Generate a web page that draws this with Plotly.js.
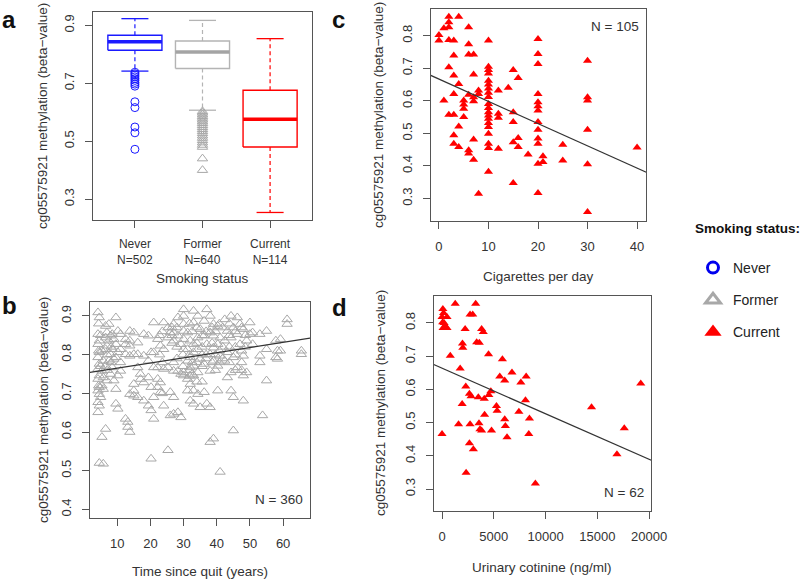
<!DOCTYPE html>
<html>
<head>
<meta charset="utf-8">
<script src="https://cdn.plot.ly/plotly-3.0.1.min.js"></script>
<style>
  html, body { margin: 0; padding: 0; background: #fff; }
  #graph { width: 800px; height: 582px; }
</style>
</head>
<body>
<div id="graph"></div>
<script>
// panel a: box plot by smoking status
const groups = ['Never', 'Former', 'Current']
const groupN = [502, 640, 114]
const boxLower = [0.742, 0.607, 0.254]
const boxQ1 = [0.814, 0.751, 0.480]
const boxMedian = [0.843, 0.808, 0.576]
const boxQ3 = [0.866, 0.846, 0.676]
const boxUpper = [0.923, 0.917, 0.854]
const neverOutliers = [0.738, 0.733, 0.728, 0.722, 0.716, 0.710, 0.703, 0.697, 0.690, 0.636, 0.616, 0.549, 0.529, 0.472]
const formerOutliers = [0.603, 0.598, 0.592, 0.586, 0.580, 0.574, 0.568, 0.562, 0.555, 0.548, 0.541, 0.534, 0.527, 0.519, 0.511, 0.503, 0.495, 0.487, 0.480, 0.440, 0.400]

// panel b: former smokers, time since quit
const quitYears = [4.2, 4.4, 4.6, 5, 5.4, 5.8, 6.5, 6.9, 7, 7.5, 8, 8.2, 8.5, 9, 9.6, 10.2,
    11, 12.5, 13.2, 13.8, 15, 16.2, 17, 18, 19.4, 20.2, 21, 22.2, 22.8, 23, 23.6, 24, 25.3, 26, 26.5, 27,
    28, 28.3, 29.2, 29.8, 30, 31.2, 31.8, 32, 32.6, 33, 34, 34.3, 35, 35.6, 36.2, 36.8, 37, 38, 38.6, 39,
    39.6, 40.3, 40.8, 41, 41.8, 42.4, 43.2, 43.8, 44.3, 45, 45.6, 46.2, 47, 47.5, 48, 48.6, 49, 50, 50.8, 53,
    53.8, 55, 57.8, 58.3, 59.2, 61.2, 65.5]
const quitBeta = [
    [0.909, 0.853, 0.827, 0.793, 0.763, 0.737, 0.707, 0.677, 0.651], // 4.2
    [0.88, 0.81, 0.72], // 4.4
    [0.896, 0.836, 0.806, 0.776, 0.746, 0.716, 0.698, 0.668, 0.52], // 4.6
    [0.85, 0.77, 0.69], // 5
    [0.81, 0.758, 0.72, 0.587], // 5.4
    [0.784, 0.741, 0.711, 0.518], // 5.8
    [0.874, 0.844, 0.814, 0.771, 0.608], // 6.5
    [0.857, 0.823, 0.733], // 6.9
    [0.80, 0.76], // 7
    [0.879, 0.836, 0.784], // 7.5
    [0.849, 0.801, 0.75], // 8
    [0.82, 0.78], // 8.2
    [0.853, 0.814, 0.767], // 8.5
    [0.84, 0.789, 0.733], // 9
    [0.896, 0.827, 0.793, 0.711, 0.673], // 9.6
    [0.861, 0.806, 0.746, 0.66], // 10.2
    [0.853, 0.814, 0.78, 0.758], // 11
    [0.84, 0.827, 0.801, 0.634], // 12.5
    [0.626, 0.613], // 13.2
    [0.861, 0.836, 0.823, 0.797, 0.698, 0.6], // 13.8
    [0.857, 0.801, 0.724, 0.707, 0.694], // 15
    [0.831, 0.801, 0.767, 0.69], // 16.2
    [0.75, 0.737], // 17
    [0.853, 0.797, 0.728, 0.681], // 18
    [0.849, 0.784, 0.741, 0.668], // 19.4
    [0.806, 0.716, 0.656, 0.531], // 20.2
    [0.883, 0.806, 0.767, 0.69, 0.634], // 21
    [0.84, 0.767, 0.737, 0.716], // 22.2
    [0.85, 0.80], // 22.8
    [0.823, 0.728, 0.703], // 23
    [0.86, 0.78, 0.70], // 23.6
    [0.883, 0.814, 0.763, 0.668], // 24
    [0.87, 0.844, 0.767, 0.553], // 25.3
    [0.857, 0.703, 0.643], // 26
    [0.87, 0.85, 0.83], // 26.5
    [0.879, 0.857, 0.836, 0.78, 0.758, 0.69, 0.647], // 27
    [0.87, 0.82, 0.79], // 28
    [0.896, 0.849, 0.758, 0.651], // 28.3
    [0.827, 0.75, 0.638], // 29.2
    [0.80, 0.77], // 29.8
    [0.917, 0.9, 0.879, 0.861, 0.84, 0.814, 0.754, 0.746], // 30
    [0.857, 0.814, 0.784, 0.737, 0.707], // 31.2
    [0.88, 0.80, 0.76, 0.745], // 31.8
    [0.836, 0.793, 0.767, 0.724, 0.681], // 32
    [0.86, 0.78, 0.75], // 32.6
    [0.913, 0.883, 0.827, 0.806, 0.771, 0.746, 0.707, 0.673], // 33
    [0.87, 0.83, 0.78, 0.73], // 34
    [0.9, 0.844, 0.814, 0.754, 0.698], // 34.3
    [0.866, 0.789, 0.664], // 35
    [0.85, 0.82, 0.80, 0.77, 0.73], // 35.6
    [0.887, 0.849, 0.776, 0.703], // 36.2
    [0.86, 0.80, 0.79], // 36.8
    [0.917, 0.827, 0.673], // 37
    [0.9, 0.857, 0.801, 0.758, 0.664, 0.574], // 38
    [0.87, 0.83, 0.78], // 38.6
    [0.879, 0.849, 0.818, 0.784, 0.583], // 39
    [0.86, 0.80, 0.76], // 39.6
    [0.874, 0.827, 0.771, 0.707], // 40.3
    [0.88, 0.81, 0.78], // 40.8
    [0.844, 0.797, 0.497], // 41
    [0.87, 0.82, 0.79], // 41.8
    [0.891, 0.836, 0.784], // 42.4
    [0.861, 0.806, 0.741], // 43.2
    [0.88, 0.85, 0.82, 0.78], // 43.8
    [0.9, 0.844, 0.754, 0.707], // 44.3
    [0.87, 0.793, 0.69, 0.604], // 45
    [0.86, 0.82, 0.80, 0.76], // 45.6
    [0.896, 0.853, 0.767], // 46.2
    [0.879, 0.827], // 47
    [0.87, 0.81, 0.78, 0.76], // 47.5
    [0.866, 0.797, 0.746, 0.681], // 48
    [0.85, 0.82], // 48.6
    [0.836, 0.754], // 49
    [0.883, 0.853], // 50
    [0.857, 0.827], // 50.8
    [0.853, 0.797, 0.78], // 53
    [0.643], // 53.8
    [0.861, 0.814, 0.733], // 55
    [0.836, 0.793], // 57.8
    [0.81, 0.789], // 58.3
    [0.84, 0.81], // 59.2
    [0.891, 0.879], // 61.2
    [0.81, 0.801] // 65.5
]
const quitFitX = [0, 70]
const quitFitY = [0.752, 0.845]

// panel c: current smokers, cigarettes per day
const cigPerDay = [0, 1, 2, 3, 4, 5, 6, 7, 8, 10, 12, 14, 15, 16, 18, 20, 21, 25, 30, 40]
const cigBeta = [
    [0.802, 0.785],
    [0.823, 0.601],
    [0.858, 0.841, 0.826, 0.787, 0.703, 0.557],
    [0.785, 0.739, 0.678, 0.621, 0.557, 0.494, 0.468],
    [0.858, 0.652, 0.521, 0.458],
    [0.601, 0.589, 0.576, 0.550],
    [0.826, 0.774, 0.742, 0.619, 0.448, 0.438],
    [0.742, 0.681, 0.611, 0.599, 0.481, 0.419],
    [0.632, 0.621, 0.315],
    [0.785, 0.705, 0.695, 0.684, 0.662, 0.650, 0.638, 0.625, 0.612, 0.590, 0.578, 0.565, 0.555, 0.545, 0.532, 0.520, 0.499, 0.468, 0.455, 0.382],
    [0.632, 0.560, 0.548, 0.453],
    [0.640],
    [0.695, 0.565, 0.535, 0.473, 0.348],
    [0.670, 0.486, 0.458],
    [0.435],
    [0.790, 0.744, 0.713, 0.621, 0.596, 0.583, 0.570, 0.535, 0.511, 0.484, 0.468, 0.407, 0.317],
    [0.430, 0.412],
    [0.465, 0.417],
    [0.723, 0.611, 0.601, 0.511, 0.405, 0.259],
    [0.457]
]
const cigFitX = [-5, 45]
const cigFitY = [0.701, 0.359]

// panel d: current smokers, urinary cotinine
const cotinine = [0, 80, 150, 0, 480, 60, 300, 100, 480, 200, 1274, 3248, 796, 1975, 2229, 2707, 2962, 2006,
    3344, 3599, 3822, 3981, 4490, 1752, 2293, 1943, 2643, 2803, 3503, 4076, 4522, 4713, 1592, 2707, 3567,
    3662, 3822, 4108, 4777, 2643, 3025, 2325, 5255, 5318, 5828, 5573, 6051, 6752, 6051, 6115, 6274, 7420,
    7611, 8121, 8057, 8439, 8376, 9013, 14435, 17596, 16887, 19186]
const cotBeta = [0.466, 0.842, 0.830, 0.818, 0.818, 0.802, 0.790, 0.785, 0.785, 0.800, 0.858, 0.858, 0.701, 0.738, 0.782, 0.825, 0.825, 0.725,
    0.742, 0.740, 0.782, 0.773, 0.706, 0.663, 0.609, 0.556, 0.587, 0.579, 0.576, 0.572, 0.583, 0.594, 0.495, 0.495, 0.498,
    0.480, 0.476, 0.524, 0.476, 0.438, 0.420, 0.349, 0.550, 0.536, 0.691, 0.639, 0.627, 0.651, 0.510, 0.490, 0.456, 0.533,
    0.621, 0.639, 0.567, 0.512, 0.466, 0.317, 0.546, 0.483, 0.405, 0.618]
const cotFitX = [-2000, 22000]
const cotFitY = [0.691, 0.362]

const FONT = '"Liberation Sans", Arial, sans-serif'
const colors = {Never: '#1a1aff', Former: '#b4b4b4', Current: '#ff0000'}
const boxHalf = 0.4

const traces = []

// boxes built from the summary statistics
groups.forEach((g, i) => {
    const c = colors[g]
    traces.push({
        x: [i - boxHalf, i + boxHalf, i + boxHalf, i - boxHalf, i - boxHalf],
        y: [boxQ1[i], boxQ1[i], boxQ3[i], boxQ3[i], boxQ1[i]],
        xaxis: 'x', yaxis: 'y', mode: 'lines', showlegend: false, hoverinfo: 'skip',
        line: {color: c, width: 1.4}
    })
    traces.push({
        x: [i, i, null, i, i],
        y: [boxQ3[i], boxUpper[i], null, boxQ1[i], boxLower[i]],
        xaxis: 'x', yaxis: 'y', mode: 'lines', showlegend: false, hoverinfo: 'skip',
        line: {color: c, width: 1.2, dash: '4px,3px'}
    })
    traces.push({
        x: [i - boxHalf / 2, i + boxHalf / 2, null, i - boxHalf / 2, i + boxHalf / 2],
        y: [boxUpper[i], boxUpper[i], null, boxLower[i], boxLower[i]],
        xaxis: 'x', yaxis: 'y', mode: 'lines', showlegend: false, hoverinfo: 'skip',
        line: {color: c, width: 1.3}
    })
    traces.push({
        x: [i - boxHalf, i + boxHalf],
        y: [boxMedian[i], boxMedian[i]],
        xaxis: 'x', yaxis: 'y', mode: 'lines', showlegend: false, hoverinfo: 'skip',
        line: {color: g === 'Former' ? '#a4a4a4' : c, width: 3.5}
    })
})
traces.push({
    x: neverOutliers.map(() => 0), y: neverOutliers, xaxis: 'x', yaxis: 'y',
    mode: 'markers', showlegend: false,
    marker: {symbol: 'circle-open', size: 8, color: colors.Never, line: {width: 1}}
})
traces.push({
    x: formerOutliers.map(() => 1), y: formerOutliers, xaxis: 'x', yaxis: 'y',
    mode: 'markers', showlegend: false,
    marker: {symbol: 'triangle-up-open', size: 9, color: '#a8a8a8', line: {width: 1}}
})

// panel b
const bx = [], by = []
quitYears.forEach((yr, k) => {
    for (const v of quitBeta[k]) { bx.push(yr); by.push(v) }
})
traces.push({
    x: bx, y: by, xaxis: 'x2', yaxis: 'y2', mode: 'markers', showlegend: false,
    marker: {symbol: 'triangle-up-open', size: 9, color: '#a8a8a8', line: {width: 1}}
})
traces.push({
    x: quitFitX, y: quitFitY, xaxis: 'x2', yaxis: 'y2', mode: 'lines', showlegend: false,
    line: {color: '#333', width: 1.2}
})

// panel c
const cx = [], cy = []
cigPerDay.forEach((n, k) => {
    for (const v of cigBeta[k]) { cx.push(n); cy.push(v) }
})
traces.push({
    x: cx, y: cy, xaxis: 'x3', yaxis: 'y3', mode: 'markers', showlegend: false,
    marker: {symbol: 'triangle-up', size: 8, color: colors.Current}
})
traces.push({
    x: cigFitX, y: cigFitY, xaxis: 'x3', yaxis: 'y3', mode: 'lines', showlegend: false,
    line: {color: '#333', width: 1.2}
})

// panel d
traces.push({
    x: cotinine, y: cotBeta, xaxis: 'x4', yaxis: 'y4', mode: 'markers', showlegend: false,
    marker: {symbol: 'triangle-up', size: 8, color: colors.Current}
})
traces.push({
    x: cotFitX, y: cotFitY, xaxis: 'x4', yaxis: 'y4', mode: 'lines', showlegend: false,
    line: {color: '#333', width: 1.2}
})

// legend entries
const legendMarkers = {
    Never: {symbol: 'circle-open', size: 11, color: '#0000ee', line: {width: 3}},
    Former: {symbol: 'triangle-up-open', size: 13, color: '#a8a8a8', line: {width: 3}},
    Current: {symbol: 'triangle-up', size: 15, color: '#ff0000', line: {width: 0}}
}
groups.forEach((g) => {
    traces.push({
        x: [null], y: [null], xaxis: 'x', yaxis: 'y', mode: 'markers', name: g,
        legendgroup: g, showlegend: true, marker: legendMarkers[g]
    })
})

const axisBase = (extra) => Object.assign({
    showline: true, mirror: true, linecolor: '#555', linewidth: 1,
    ticks: 'outside', ticklen: 7, tickcolor: '#555', tickwidth: 1,
    showgrid: false, zeroline: false, fixedrange: true, ticklabelstandoff: 6,
    tickfont: {family: FONT, size: 13, color: '#333'}
}, extra)

const W = 800, H = 582
const px = (v) => v / W
const py = (v) => 1 - v / H

const yTitle = 'cg05575921 methylation (beta−value)'
const textFont = {family: FONT, size: 13.5, color: '#333'}
const annotations = [
    {text: '<b>a</b>', x: px(0), y: py(4), xanchor: 'left', yanchor: 'top'},
    {text: '<b>b</b>', x: px(0), y: py(290), xanchor: 'left', yanchor: 'top'},
    {text: '<b>c</b>', x: px(330), y: py(4), xanchor: 'left', yanchor: 'top'},
    {text: '<b>d</b>', x: px(330), y: py(292), xanchor: 'left', yanchor: 'top'}
].map(a => Object.assign(a, {xref: 'paper', yref: 'paper', showarrow: false,
    font: {family: FONT, size: 24, color: '#111'}}))

const titles = [
    {text: yTitle, x: px(43), y: py(116), textangle: -90},
    {text: yTitle, x: px(43), y: py(410), textangle: -90},
    {text: yTitle, x: px(379), y: py(115), textangle: -90},
    {text: yTitle, x: px(380), y: py(403), textangle: -90},
    {text: 'Smoking status', x: px(202), y: py(278)},
    {text: 'Time since quit (years)', x: px(200), y: py(571)},
    {text: 'Cigarettes per day', x: px(538), y: py(276)},
    {text: 'Urinary cotinine (ng/ml)', x: px(542), y: py(567)}
].map(a => Object.assign(a, {xref: 'paper', yref: 'paper', showarrow: false,
    xanchor: 'center', yanchor: 'middle', font: textFont}))

const counts = [
    {text: 'N = 360', xref: 'x2 domain', yref: 'y2 domain', x: 0.975, y: 0.04, yanchor: 'bottom'},
    {text: 'N = 105', xref: 'x3 domain', yref: 'y3 domain', x: 0.975, y: 0.96, yanchor: 'top'},
    {text: 'N = 62', xref: 'x4 domain', yref: 'y4 domain', x: 0.975, y: 0.04, yanchor: 'bottom'}
].map(a => Object.assign(a, {showarrow: false, xanchor: 'right', font: textFont}))

const legendTitle = {text: '<b>Smoking status:</b>', xref: 'paper', yref: 'paper', x: px(693), y: py(229),
    xanchor: 'left', yanchor: 'middle', showarrow: false, font: {family: FONT, size: 13.5, color: '#111'}}

const layout = {
    width: W, height: H,
    margin: {l: 0, r: 0, t: 0, b: 0},
    paper_bgcolor: '#fff', plot_bgcolor: '#fff',
    font: {family: FONT, color: '#333'},
    showlegend: true,
    legend: {
        x: px(693), y: py(252), xanchor: 'left', yanchor: 'top',
        font: {family: FONT, size: 14, color: '#222'},
        traceorder: 'grouped', tracegroupgap: 11, bgcolor: 'rgba(0,0,0,0)'
    },
    xaxis: axisBase({domain: [px(93), px(312)], anchor: 'y', range: [-0.62, 2.62],
        tickvals: [0, 1, 2], ticktext: groups.map((g, i) => `${g}<br>N=${groupN[i]}`),
        ticklabelstandoff: 6, tickfont: {family: FONT, size: 12, color: '#333'}}),
    yaxis: axisBase({domain: [py(220), py(12)], anchor: 'x', range: [0.228, 0.946],
        tickvals: [0.3, 0.5, 0.7, 0.9], tickangle: -90}),
    xaxis2: axisBase({domain: [px(90), px(310)], anchor: 'y2', range: [1.8, 68.1],
        tickvals: [10, 20, 30, 40, 50, 60]}),
    yaxis2: axisBase({domain: [py(518), py(302)], anchor: 'x2', range: [0.378, 0.936],
        tickvals: [0.4, 0.5, 0.6, 0.7, 0.8, 0.9], tickangle: -90}),
    xaxis3: axisBase({domain: [px(431), px(646)], anchor: 'y3', range: [-1.6, 41.8],
        tickvals: [0, 10, 20, 30, 40]}),
    yaxis3: axisBase({domain: [py(221), py(9)], anchor: 'x3', range: [0.231, 0.882],
        tickvals: [0.3, 0.4, 0.5, 0.6, 0.7, 0.8], tickangle: -90}),
    xaxis4: axisBase({domain: [px(434), px(651)], anchor: 'y4', range: [-776, 20176],
        tickvals: [0, 5000, 10000, 15000, 20000], tickformat: 'd'}),
    yaxis4: axisBase({domain: [py(511), py(296)], anchor: 'x4', range: [0.234, 0.881],
        tickvals: [0.3, 0.4, 0.5, 0.6, 0.7, 0.8], tickangle: -90}),
    annotations: [...annotations, ...titles, ...counts, legendTitle]
}

Plotly.newPlot('graph', traces, layout, {staticPlot: true})
</script>
</body>
</html>
